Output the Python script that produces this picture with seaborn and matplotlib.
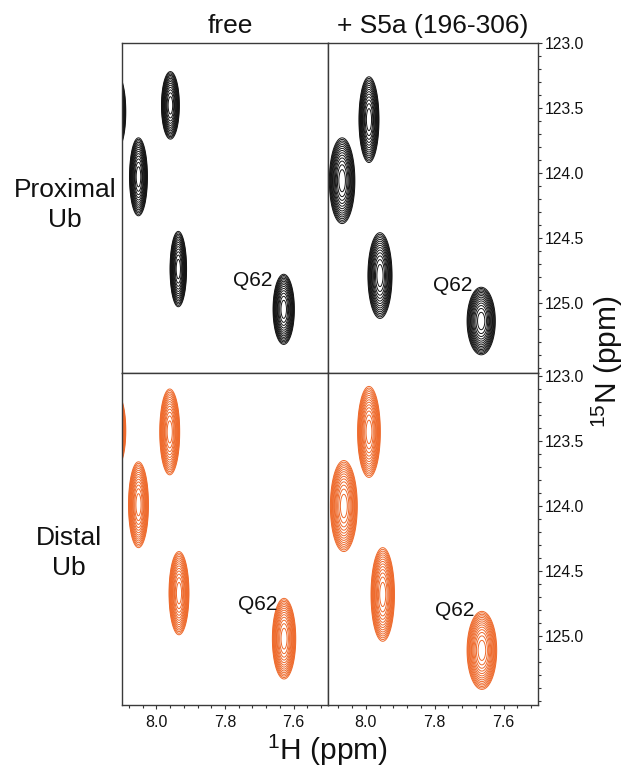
import numpy as np
import matplotlib.pyplot as plt
import matplotlib.ticker as mticker
import seaborn as sns

sns.set_theme(style="white")
plt.rcParams["font.family"] = ["Liberation Sans", "DejaVu Sans"]
plt.rcParams["mathtext.fontset"] = "custom"
plt.rcParams["mathtext.rm"] = "Liberation Sans"

# peak centres (1H, 15N ppm) and half-extents of the outer contour (ppm)
prox_free_h = [8.115, 7.959, 8.052, 7.936, 7.629]
prox_free_n = [123.53, 123.48, 124.03, 124.74, 125.05]
prox_free_wh = [0.026, 0.026, 0.026, 0.024, 0.031]
prox_free_wn = [0.29, 0.26, 0.30, 0.29, 0.27]

prox_bound_h = [7.991, 8.069, 7.959, 7.665]
prox_bound_n = [123.59, 124.06, 124.79, 125.14]
prox_bound_wh = [0.029, 0.037, 0.035, 0.041]
prox_bound_wn = [0.33, 0.33, 0.33, 0.26]

dist_free_h = [8.115, 7.961, 8.052, 7.934, 7.628]
dist_free_n = [123.42, 123.43, 123.99, 124.67, 125.02]
dist_free_wh = [0.026, 0.029, 0.029, 0.029, 0.034]
dist_free_wn = [0.28, 0.33, 0.33, 0.32, 0.31]

dist_bound_h = [7.991, 8.064, 7.951, 7.663]
dist_bound_n = [123.43, 124.00, 124.68, 125.11]
dist_bound_wh = [0.033, 0.039, 0.034, 0.043]
dist_bound_wn = [0.35, 0.35, 0.36, 0.30]

# Q62 label anchor (right edge of text)
q62_h = [7.661, 7.692, 7.646, 7.686]
q62_n = [124.83, 124.87, 124.76, 124.80]

col_titles = ["free", "+ S5a (196-306)"]
row_labels = ["Proximal\nUb", "Distal\nUb"]
row_colors = ["#141414", "#ee6a2c"]
n_ticks = [123.0, 123.5, 124.0, 124.5, 125.0]
h_ticks = [8.0, 7.8, 7.6]

panels = [
    (prox_free_h, prox_free_n, prox_free_wh, prox_free_wn),
    (prox_bound_h, prox_bound_n, prox_bound_wh, prox_bound_wn),
    (dist_free_h, dist_free_n, dist_free_wh, dist_free_wn),
    (dist_bound_h, dist_bound_n, dist_bound_wh, dist_bound_wn),
]

W, H = 627, 767
fig = plt.figure(figsize=(W / 100, H / 100), dpi=100)

# panel boxes in pixels (x0, y0, x1, y1)
boxes = [(122, 43, 328, 373), (328, 43, 538, 373),
         (122, 373, 328, 705), (328, 373, 538, 705)]
ylims = [(125.54, 123.0), (125.54, 123.0), (125.53, 122.977), (125.53, 122.977)]
xlims = [(8.10, 7.50), (8.11, 7.50), (8.10, 7.50), (8.11, 7.50)]

hg = np.linspace(7.4, 8.25, 800)
ng = np.linspace(122.7, 125.9, 700)
HH, NN = np.meshgrid(hg, ng)
levels = np.geomspace(0.05, 0.82, 14)
r_out = np.sqrt(-2 * np.log(levels[0]))

for i, (hs, ns, whs, wns) in enumerate(panels):
    x0, y0, x1, y1 = boxes[i]
    ax = fig.add_axes([x0 / W, 1 - y1 / H, (x1 - x0) / W, (y1 - y0) / H])
    Z = np.zeros_like(HH)
    for h, n, wh, wn in zip(hs, ns, whs, wns):
        sh, sn = wh / r_out, wn / r_out
        Z += np.exp(-0.5 * ((HH - h) / sh) ** 2 - 0.5 * ((NN - n) / sn) ** 2)
    ax.contour(HH, NN, Z, levels=levels, colors=row_colors[i // 2], linewidths=0.7)
    ax.set_xlim(*xlims[i])
    ax.set_ylim(*ylims[i])
    ax.text(q62_h[i], q62_n[i], "Q62", ha="right", va="center", fontsize=15, color="#111111")
    for s in ax.spines.values():
        s.set_color("#3a3a3a")
        s.set_linewidth(1.0)
    if i % 2 == 1:
        ax.yaxis.tick_right()
        ax.set_yticks(n_ticks)
        ax.set_yticklabels([f"{v:.1f}" for v in n_ticks])
        ax.yaxis.set_minor_locator(mticker.MultipleLocator(0.1))
        ax.tick_params(axis="y", which="both", direction="out", right=True, left=False,
                       colors="#333333", labelcolor="#111111", labelsize=11.3, pad=2)
        ax.tick_params(axis="y", which="major", length=3, width=0.8)
        ax.tick_params(axis="y", which="minor", length=2, width=0.8)
    else:
        ax.set_yticks([])
    if i >= 2:
        ax.set_xticks(h_ticks)
        ax.set_xticklabels([f"{v:.1f}" for v in h_ticks])
        ax.xaxis.set_minor_locator(mticker.MultipleLocator(0.04))
        ax.tick_params(axis="x", which="both", direction="out", bottom=True,
                       colors="#333333", labelcolor="#111111", labelsize=11.5, pad=4)
        ax.tick_params(axis="x", which="major", length=3, width=0.8)
        ax.tick_params(axis="x", which="minor", length=2, width=0.8)
    else:
        ax.set_xticks([])

fig.text(230 / W, 1 - 26 / H, col_titles[0], ha="center", va="center", fontsize=19, color="#111111")
fig.text(433 / W, 1 - 26 / H, col_titles[1], ha="center", va="center", fontsize=19, color="#111111")
fig.text(65 / W, 1 - 205 / H, row_labels[0], ha="center", va="center", fontsize=19,
         linespacing=1.3, color="#111111")
fig.text(69 / W, 1 - 553 / H, row_labels[1], ha="center", va="center", fontsize=19,
         linespacing=1.3, color="#111111")
fig.text(327 / W, 1 - 750 / H, "$^{1}$H (ppm)", ha="center", va="center", fontsize=21.5, color="#111111")
fig.text(607 / W, 1 - 362 / H, "$^{15}$N (ppm)", ha="center", va="center", rotation=90,
         fontsize=21.5, color="#111111")

fig.savefig("out.png", dpi=100, facecolor="white")
